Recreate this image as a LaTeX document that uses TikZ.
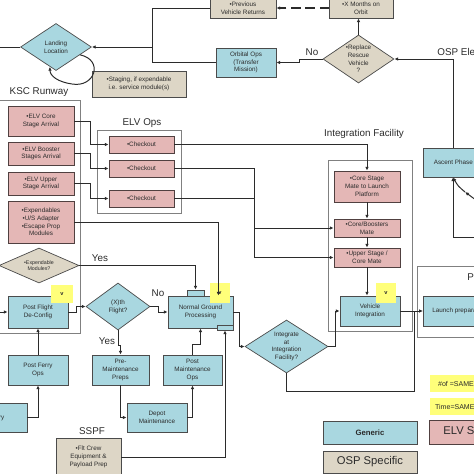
\documentclass[tikz,border=0pt]{standalone}
\usepackage{fontspec}
\setmainfont{Liberation Sans}
\usetikzlibrary{shapes.geometric,arrows.meta}
\definecolor{genblue}{HTML}{A9D7E0}
\definecolor{elvpink}{HTML}{E4B7B6}
\definecolor{ospbeige}{HTML}{DDD6C6}
\definecolor{hiyel}{HTML}{FFFF7A}
\definecolor{ink}{HTML}{2B2B2B}
\begin{document}
\begin{tikzpicture}[x=0.05cm,y=-0.05cm,font=\fontsize{9}{11}\selectfont,text=ink,
  >={Latex[length=5.5pt,width=5pt]},
  conn/.style={draw=ink,line width=1.4pt},
  box/.style={draw=ink!85,line width=1pt,align=center,inner sep=1pt},
  gen/.style={box,fill=genblue},
  elv/.style={box,fill=elvpink,draw=elvpink!35!black},
  osp/.style={box,fill=ospbeige},
  dia/.style={diamond,inner sep=0pt,aspect=1.5},
  grp/.style={draw=gray,line width=0.8pt},
  vmark/.style={fill=hiyel,font=\fontsize{8}{8}\bfseries\selectfont,minimum width=1cm,minimum height=1cm},
  lbl/.style={font=\fontsize{14}{16}\selectfont}]
\useasboundingbox(0,0)rectangle(474,474);
\clip(0,0)rectangle(474,474);
\fill[white](0,0)rectangle(474,474);
% groups
\draw[grp](-3,100)rectangle(80,333);
\draw[grp](97,130)rectangle(181,213);
\draw[grp](328,160)rectangle(412,331);
\draw[grp](417,266)rectangle(490,337);
\node[lbl](kscl) at (39,92){KSC Runway};
\node[lbl](elvl) at (142,123){ELV Ops};
\node[lbl](intl) at (364,134){Integration Facility};
\node[lbl,anchor=west](padl) at (465,277){Pad};
\node[lbl,anchor=west](ospl) at (435,52){OSP Elements};
\node[lbl](sspfl) at (92,431){SSPF};
% top
\node[osp,minimum width=3.3cm,minimum height=1cm](prev) at (243,8){•Previous\\Vehicle Returns};
\node[osp,minimum width=3.2cm,minimum height=1cm](xmon) at (361,8){•X Months on\\Orbit};
\node[gen,dia,minimum width=3.55cm,minimum height=2.35cm](land) at (56,47){Landing\\Location};
\node[gen,minimum width=3cm,minimum height=1.45cm](orb) at (246,62.5){Orbital Ops\\(Transfer\\Mission)};
\node[osp,dia,minimum width=3.55cm,minimum height=2.4cm](rep) at (358.5,59){•Replace\\Rescue\\Vehicle\\?};
\node[osp,minimum width=4.7cm,minimum height=1.3cm](stg) at (139,84){•Staging, if expendable\\i.e. service module(s)};
\node[gen,anchor=west,minimum width=3cm,minimum height=1.45cm,inner xsep=0.45cm](asc) at (423,162.5){Ascent Phase};
% ELV arrivals
\node[elv,minimum width=3.3cm,minimum height=1.5cm](core) at (41,121){•ELV Core\\Stage Arrival};
\node[elv,minimum width=3.3cm,minimum height=1.15cm](boost) at (41,153.5){•ELV Booster\\Stages Arrival};
\node[elv,minimum width=3.3cm,minimum height=1.15cm](upper) at (41,183.5){•ELV Upper\\Stage Arrival};
\node[elv,minimum width=3.3cm,minimum height=2.1cm](expd) at (41,222){•Expendables\\•U/S Adapter\\•Escape Prop\\Modules};
\foreach \n/\y in {1/144.5,2/168.5,3/198.5}
  \node[elv,minimum width=3.25cm,minimum height=0.85cm](chk\n) at (141.5,\y){•Checkout};
% integration
\node[elv,minimum width=3.3cm,minimum height=1.55cm](csm) at (367,186.5){•Core Stage\\Mate to Launch\\Platform};
\node[elv,minimum width=3.3cm,minimum height=0.9cm](cbm) at (367,228){•Core/Boosters\\Mate};
\node[elv,minimum width=3.3cm,minimum height=0.95cm](usc) at (367,257.5){•Upper Stage /\\Core Mate};
\node[gen,minimum width=3cm,minimum height=1.5cm](vi) at (370,311){Vehicle\\Integration};
\node[vmark](viv) at (386,293){v};
\node[gen,anchor=west,minimum height=1.5cm,inner xsep=0.45cm](launch) at (423,311){Launch preparation};
% ground flow
\node[osp,dia,aspect=2.3,minimum width=4cm,minimum height=1.75cm,font=\fontsize{7.5}{9}\selectfont](expm) at (39,265.5){•Expendable\\Modules?};
\node[gen,minimum width=3cm,minimum height=1.6cm](pfd) at (38,312){Post Flight\\De-Config};
\node[vmark,minimum width=1.1cm,minimum height=0.9cm](pfdv) at (62,294){v};
\node[gen,dia,aspect=1.36,minimum width=3.2cm,minimum height=2.35cm](xth) at (118,306.5){(X)th\\Flight?};
\node[gen,minimum width=0.85cm,minimum height=0.3cm,inner sep=0pt](tabt) at (195.5,293){};
\node[gen,minimum width=3.25cm,minimum height=1.6cm](ngp) at (200.5,312){Normal Ground\\Processing};
\node[gen,minimum width=0.8cm,minimum height=0.25cm,inner sep=0pt](tabb) at (225,327.5){};
\node[vmark](ngpv) at (220,293){v};
\node[gen,minimum width=2.85cm,minimum height=1.5cm](pre) at (120.5,370){Pre-\\Maintenance\\Preps};
\node[gen,minimum width=2.95cm,minimum height=1.5cm](post) at (192.5,370){Post\\Maintenance\\Ops};
\node[gen,minimum width=3cm,minimum height=1.45cm](dep) at (157,417.5){Depot\\Maintenance};
\node[gen,minimum width=3cm,minimum height=1.5cm](pfo) at (38,370){Post Ferry\\Ops};
\node[gen,minimum width=3cm,minimum height=1.45cm](fer) at (-3,417.5){Ferry};
\node[osp,minimum width=3.25cm,minimum height=1.9cm](fcp) at (88.5,457){•Flt Crew\\Equipment \&\\Payload Prep};
\node[gen,dia,aspect=1.57,minimum width=4.15cm,minimum height=2.65cm](integ) at (286.5,346.5){Integrate\\at\\Integration\\Facility?};
% legend
\node[fill=hiyel,anchor=west,minimum height=0.85cm,inner xsep=0.4cm,font=\fontsize{10}{12}\selectfont](lnum) at (430,383.5){\#of =SAME};
\node[fill=hiyel,anchor=west,minimum height=0.85cm,inner xsep=0.25cm,font=\fontsize{10}{12}\selectfont](ltime) at (430,406.5){Time=SAME};
\node[gen,minimum width=4.7cm,minimum height=1.15cm,font=\fontsize{11}{13}\bfseries\selectfont](lgen) at (370,432.5){Generic};
\node[elv,anchor=west,minimum height=1.2cm,inner xsep=0.7cm,font=\fontsize{16}{18}\selectfont](lelv) at (429,432){ELV Specific};
\node[osp,minimum width=4.7cm,minimum height=1.1cm,font=\fontsize{16}{18}\selectfont](losp) at (370,462){OSP Specific};
% yes / no
\node[lbl](yes1) at (100,258){Yes};
\node[lbl](no1) at (158,293){No};
\node[lbl](yes2) at (107,341){Yes};
\node[lbl](no2) at (312,52){No};
% connectors
\coordinate(jn) at (152,47);
\coordinate(lout) at (-5,47);
\coordinate(pin) at (-5,312);
\coordinate(ascin) at (480,237);
\coordinate(loopa) at (484,206);
\coordinate(loopb) at (465,192);
\coordinate(jt) at (414,391);
\draw[conn,->,line width=3pt,dash pattern=on 13pt off 7pt](xmon.west)--(prev.east);
\draw[conn](prev.west)-|(jn);
\draw[conn,->](orb.west)-|(jn)--(land.east);
\draw[conn](land.west)--(lout);
\draw[conn,->](land.-18)..controls(104,60)and(95,88)..(72,84)..controls(58,82)and(50,76)..(land.-107);
\draw[conn,->](rep.north)--(rep.north|-xmon.south);
\draw[conn,->](rep.west)--++(-23,0)|-(orb.east);
\draw[conn,->]([xshift=1.5cm]asc.north west)|-(rep.east);
\draw[conn,->](ascin)-|([xshift=1.5cm]asc.south west);
\draw[conn,->](loopa)..controls(476,200)..(loopb);
\draw[conn,->](loopb)..controls(458,186)..([xshift=1.5cm]asc.south west);
\foreach \a/\n in {core/1,boost/2,upper/3}
  \draw[conn,->](\a.east)--++(16,0)|-(chk\n.west);
\draw[conn,->](chk1.east)-|(csm.north);
\draw[conn,->](chk2.east)--++(80,0)|-(cbm.west);
\draw[conn,->](chk3.east)--++(80,0)|-(usc.west);
\draw[conn,->](csm)--(cbm);
\draw[conn,->](cbm)--(usc);
\draw[conn,->](usc.south)--(usc.south|-vi.north);
\draw[conn,->](vi.east)--(launch.west);
\draw[conn,->](expd.east)-|([xshift=-0.75cm]ngp.north east);
\draw[conn,->](expm.east)-|(tabt.north);
\draw[conn,->](pin)--(pfd.west);
\draw[conn,->](pfd.east)--++(8,0)|-(xth.west);
\draw[conn,->](xth.east)--++(8,0)|-(ngp.west);
\draw[conn,->](xth.south)--++(0,15)-|(pre.north);
\draw[conn,->](pre.south)|-(dep.west);
\draw[conn,->](dep.east)-|(post.south);
\draw[conn,->](post.north)--++(0,-10)-|(ngp.south);
\draw[conn,->](fer.east)-|(pfo.south);
\draw[conn,->](pfo.north)--(pfd.south);
\draw[conn,->](fcp.east)-|(tabb.south);
\draw[conn,->](ngp.east)--++(6,0)|-(integ.west);
\draw[conn,->](integ.east)--++(7,0)|-(vi.west);
\draw[conn](integ.south)|-(jt)--(jt|-vi.east);
\end{tikzpicture}
\end{document}
